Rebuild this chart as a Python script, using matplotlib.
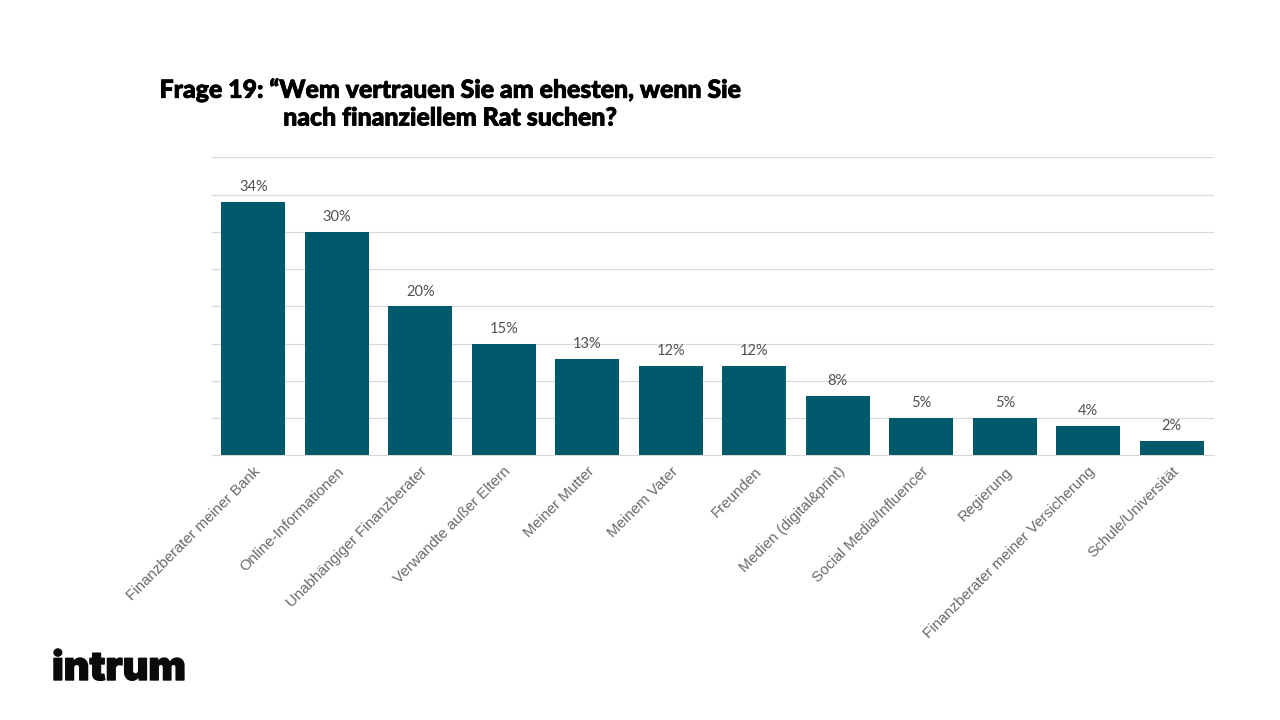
import matplotlib
matplotlib.use("Agg")
import matplotlib.pyplot as plt
import matplotlib.patheffects as pe

categories = ["Finanzberater meiner Bank", "Online-Informationen", "Unabhängiger Finanzberater",
              "Verwandte außer Eltern", "Meiner Mutter", "Meinem Vater", "Freunden",
              "Medien (digital&print)", "Social Media/Influencer", "Regierung",
              "Finanzberater meiner Versicherung", "Schule/Universität"]
values = [34, 30, 20, 15, 13, 12, 12, 8, 5, 5, 4, 2]
gridlines = [5, 10, 15, 20, 25, 30, 35, 40]

teal = "#005A6B"
grey = "#6A6A6A"

fig = plt.figure(figsize=(12.8, 7.2), dpi=100)
ax = fig.add_axes([211.5 / 1280, 1 - 455.4 / 720, 1002 / 1280, 298 / 720])

ax.bar(range(len(values)), values, width=0.766, color=teal, zorder=3)
for i, v in enumerate(values):
    ax.text(i, v + 2.0, f"{v}%", ha="center", va="center", fontsize=10.5,
            color="#505050", family="Lato", fontweight="normal", zorder=4)

ax.set_xlim(-0.5, len(values) - 0.5)
ax.set_ylim(0, 40)
ax.set_yticks(gridlines)
ax.set_yticklabels([])
ax.tick_params(left=False, bottom=False, pad=3)
ax.grid(axis="y", color="#D9D9D9", lw=0.9, zorder=0)
for s in ["top", "left", "right"]:
    ax.spines[s].set_visible(False)
ax.spines["bottom"].set_color("#D9D9D9")

ax.set_xticks(range(len(values)))
ax.set_xticklabels(categories, rotation=45, ha="right", rotation_mode="anchor",
                   fontsize=10.9, color=grey, family="Liberation Sans")

heavy = [pe.withStroke(linewidth=0.6, foreground="black")]
fig.text(450 / 1280, 1 - 90 / 720, "Frage 19: “Wem vertrauen Sie am ehesten, wenn Sie",
         ha="center", va="center", fontsize=17.9, family="Lato", fontweight="black",
         color="black", path_effects=heavy)
fig.text(450 / 1280, 1 - 118 / 720, "nach finanziellem Rat suchen?",
         ha="center", va="center", fontsize=17.9, family="Lato", fontweight="black",
         color="black", path_effects=heavy)

# logo as text
fig.text(52 / 1280, 1 - 680 / 720, "intrum", ha="left", va="baseline", fontsize=28.6,
         family="Inter", fontweight="black", color="#0a0a0a",
         path_effects=[pe.withStroke(linewidth=1.0, foreground="#0a0a0a")])

fig.savefig("out.png", dpi=100)
